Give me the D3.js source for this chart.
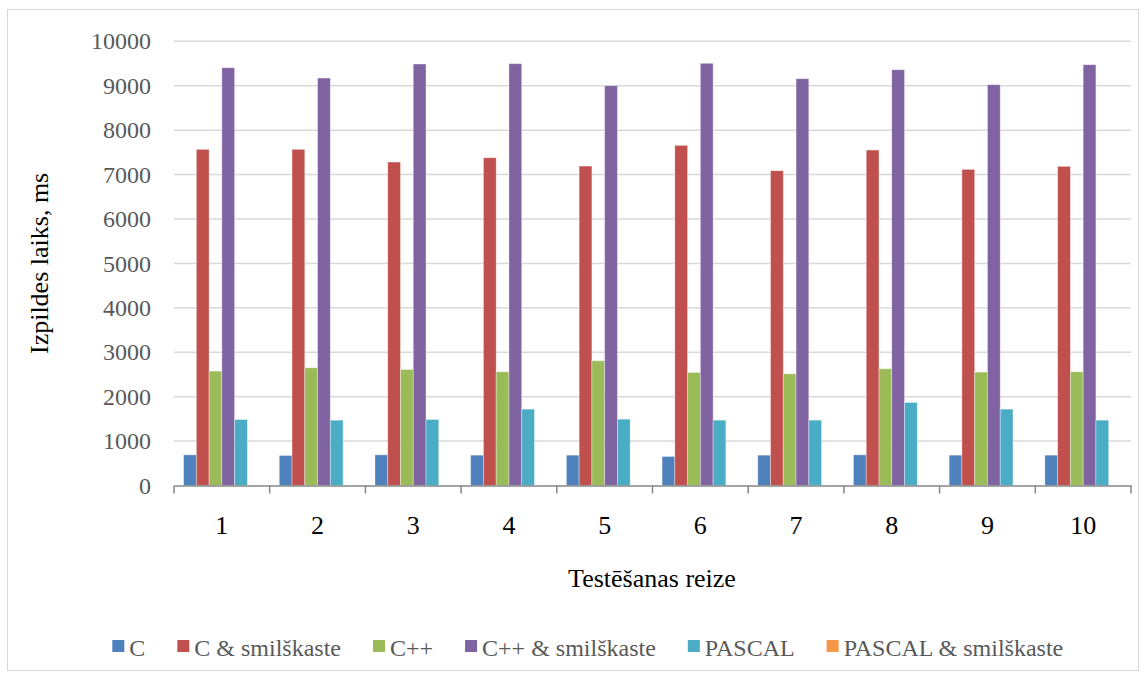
<!DOCTYPE html>
<html><head><meta charset="utf-8">
<script src="https://cdn.jsdelivr.net/npm/d3@7"></script>
<style>body{margin:0;background:#fff;} svg{display:block;}</style>
</head><body>
<svg id="chart" width="1147" height="677"></svg>
<script>
const categories = ["1","2","3","4","5","6","7","8","9","10"];
const seriesNames = ["C","C & smilškaste","C++","C++ & smilškaste","PASCAL","PASCAL & smilškaste"];
const seriesColors = ["#4F81BD","#C0504D","#9BBB59","#8064A2","#4BACC6","#F79646"];
const valuesC        = [690, 676, 690, 683, 683, 653, 683, 690, 683, 683];
const valuesCSand    = [7568, 7568, 7282, 7378, 7191, 7658, 7086, 7552, 7117, 7185];
const valuesCpp      = [2575, 2650, 2613, 2560, 2808, 2545, 2515, 2628, 2553, 2560];
const valuesCppSand  = [9405, 9173, 9489, 9496, 9000, 9505, 9158, 9360, 9023, 9473];
const valuesPascal   = [1486, 1471, 1486, 1719, 1494, 1471, 1471, 1869, 1719, 1471];
const valuesPascalSand = [0, 0, 0, 0, 0, 0, 0, 0, 0, 0];
const yTicks = [0,1000,2000,3000,4000,5000,6000,7000,8000,9000,10000];
const yTitle = "Izpildes laiks, ms";
const xTitle = "Testēšanas reize";

const allSeries = [valuesC, valuesCSand, valuesCpp, valuesCppSand, valuesPascal, valuesPascalSand];
const svg = d3.select("#chart");
const font = "'Liberation Serif','Times New Roman',serif";

// outer border
svg.append("rect").attr("x",7.5).attr("y",9.5).attr("width",1131).attr("height",661)
  .attr("fill","#fff").attr("stroke","#d9d9d9").attr("stroke-width",1);

const L = 174, R = 1131, T = 41.3, B = 485.5;
const x0 = d3.scaleBand().domain(categories).range([L,R]).paddingInner(0).paddingOuter(0);
const x1 = d3.scaleBand().domain(d3.range(seriesNames.length)).range([0,x0.bandwidth()]).paddingOuter(0.75).paddingInner(0);
const y = d3.scaleLinear().domain([0,10000]).range([B,T]);

// gridlines
svg.append("g").selectAll("line").data(yTicks.filter(d=>d>0)).join("line")
  .attr("x1",L).attr("x2",R).attr("y1",d=>y(d)).attr("y2",d=>y(d))
  .attr("stroke","#d9d9d9").attr("stroke-width",1.5);

// y tick labels
svg.append("g").selectAll("text").data(yTicks).join("text")
  .attr("x",151).attr("y",d=>y(d)).attr("dy","0.34em").attr("text-anchor","end")
  .attr("font-family",font).attr("font-size",24).attr("fill","#595959").text(d=>d);

// bars
const g = svg.append("g");
categories.forEach((c,i)=>{
  allSeries.forEach((vals,s)=>{
    if (vals[i] <= 0) return;
    g.append("rect")
      .attr("x", x0(c)+x1(s)).attr("width", x1.bandwidth())
      .attr("y", y(vals[i])).attr("height", y(0)-y(vals[i]))
      .attr("fill", seriesColors[s]).attr("stroke","#ffffff").attr("stroke-opacity",0.45).attr("stroke-width",0.8);
  });
});

// x axis
const xAxis = d3.axisBottom(x0).tickSize(0).tickPadding(0);
const ax = svg.append("g").attr("transform",`translate(0,${B})`).call(xAxis);
ax.select(".domain").attr("stroke","#868686").attr("stroke-width",1.5);
ax.selectAll(".tick text").attr("y",48).attr("dy",null)
  .attr("font-family",font).attr("font-size",26).attr("fill","#000");
// tick marks at band boundaries
const bounds = categories.map(c=>x0(c)).concat([R]);
ax.selectAll(".bnd").data(bounds).join("line").attr("class","bnd")
  .attr("x1",d=>d).attr("x2",d=>d).attr("y1",0).attr("y2",8)
  .attr("stroke","#868686").attr("stroke-width",1.5);

// axis titles
svg.append("text").attr("x",652).attr("y",587).attr("text-anchor","middle")
  .attr("font-family",font).attr("font-size",26).attr("fill","#000").text(xTitle);
svg.append("text").attr("transform",`translate(48,${(T+B)/2}) rotate(-90)`).attr("text-anchor","middle")
  .attr("font-family",font).attr("font-size",26).attr("fill","#000").text(yTitle);

// legend
const lg = svg.append("g");
const items = seriesNames.map((n,i)=>{
  const it = lg.append("g");
  it.append("rect").attr("width",12).attr("height",12).attr("y",-15.5).attr("fill",seriesColors[i]);
  const t = it.append("text").attr("x",17).attr("y",0)
    .attr("font-family",font).attr("font-size",24).attr("fill","#595959").text(n);
  return {it, w: 17 + t.node().getComputedTextLength()};
});
let cx = 112.3;
items.forEach(d=>{ d.it.attr("transform",`translate(${cx},655.5)`); cx += d.w + 32; });
</script>
</body></html>
